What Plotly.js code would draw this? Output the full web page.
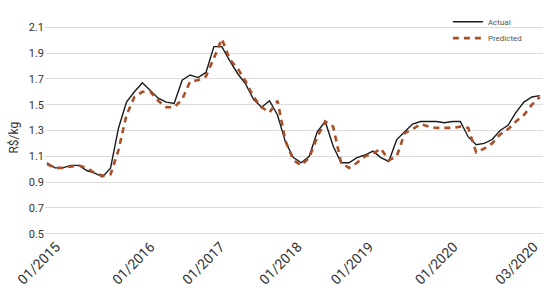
<!DOCTYPE html>
<html>
<head>
<meta charset="utf-8">
<script src="https://cdn.plot.ly/plotly-3.0.1.min.js"></script>
<style>
  html, body { margin: 0; padding: 0; background: #fff; }
  #chart { width: 550px; height: 300px; }
</style>
</head>
<body>
<div id="chart"></div>
<script>
// monthly index 0 = 01/2015 ... 62 = 03/2020
const actual = [
    1.05, 1.01, 1.01, 1.03, 1.03, 0.99, 0.97, 0.94, 1.01, 1.32,
    1.52, 1.60, 1.67, 1.61, 1.55, 1.52, 1.51, 1.69, 1.73, 1.71,
    1.75, 1.95, 1.95, 1.84, 1.74, 1.66, 1.54, 1.48, 1.53, 1.42,
    1.21, 1.09, 1.05, 1.10, 1.29, 1.37, 1.18, 1.05, 1.05, 1.09,
    1.11, 1.14, 1.09, 1.06, 1.23, 1.29, 1.35, 1.37, 1.37, 1.37,
    1.36, 1.37, 1.37, 1.25, 1.19, 1.20, 1.23, 1.30, 1.34, 1.44,
    1.52, 1.56, 1.57
];
const predicted = [
    1.04, 1.01, 1.01, 1.02, 1.03, 1.01, 0.97, 0.95, 0.96, 1.15,
    1.42, 1.56, 1.60, 1.60, 1.53, 1.48, 1.48, 1.54, 1.68, 1.69,
    1.72, 1.86, 2.01, 1.85, 1.78, 1.68, 1.56, 1.48, 1.44, 1.53,
    1.22, 1.07, 1.03, 1.09, 1.25, 1.37, 1.33, 1.05, 1.01, 1.05,
    1.10, 1.12, 1.16, 1.07, 1.10, 1.28, 1.31, 1.35, 1.33, 1.32,
    1.32, 1.32, 1.33, 1.32, 1.13, 1.16, 1.20, 1.27, 1.31, 1.37,
    1.42, 1.50, 1.56
];
const months = actual.map((_, i) => i);
const tickIdx = [1.15, 13.05, 21.85, 31.55, 40.55, 51.15, 61.25];
const tickLabels = ['01/2015', '01/2016', '01/2017', '01/2018', '01/2019', '01/2020', '03/2020'];
const yTicks = [0.5, 0.7, 0.9, 1.1, 1.3, 1.5, 1.7, 1.9, 2.1];

const font = 'Roboto, "Liberation Sans", sans-serif';

const traces = [
    {
        type: 'scatter', mode: 'lines', name: 'Actual',
        x: months, y: actual, legend: 'legend',
        line: { color: '#1a1a1a', width: 1.4 }
    },
    {
        type: 'scatter', mode: 'lines', name: 'Predicted',
        x: months, y: predicted, legend: 'legend2',
        line: { color: '#a9502a', width: 2.6, dash: '6px,5px' }
    }
];

const legendStyle = {
    xanchor: 'left', yanchor: 'middle',
    bgcolor: 'rgba(0,0,0,0)', borderwidth: 0,
    font: { size: 8, color: '#555', family: font },
    itemwidth: 30
};

const layout = {
    width: 550, height: 300,
    margin: { l: 45, r: 7, t: 17.6, b: 64.6 },
    paper_bgcolor: '#fff', plot_bgcolor: '#fff',
    font: { family: font, color: '#333' },
    showlegend: true,
    legend: Object.assign({ x: 0.809, y: 1.02 }, legendStyle),
    legend2: Object.assign({ x: 0.809, y: 0.942 }, legendStyle),
    xaxis: {
        range: [-0.25, 62.4],
        showgrid: false, zeroline: false, showline: false,
        tickmode: 'array', tickvals: tickIdx, ticktext: tickLabels,
        tickangle: -45, ticks: '',
        tickfont: { size: 14, color: '#333', family: font },
        automargin: false
    },
    yaxis: {
        range: [0.49, 2.11],
        tickmode: 'array', tickvals: yTicks,
        ticktext: yTicks.map(v => v.toFixed(1)),
        showgrid: true, gridcolor: '#dcdcdc', gridwidth: 1,
        zeroline: false, showline: false, ticks: '',
        tickfont: { size: 11, color: '#333', family: font },
        automargin: false
    },
    annotations: [{
        text: 'R$/kg', textangle: -90,
        xref: 'paper', yref: 'paper', x: 0, y: 0.466,
        xanchor: 'center', yanchor: 'middle', xshift: -31,
        showarrow: false,
        font: { size: 12, color: '#333', family: font }
    }]
};

Plotly.newPlot('chart', traces, layout, { displayModeBar: false, staticPlot: true });
</script>
</body>
</html>
